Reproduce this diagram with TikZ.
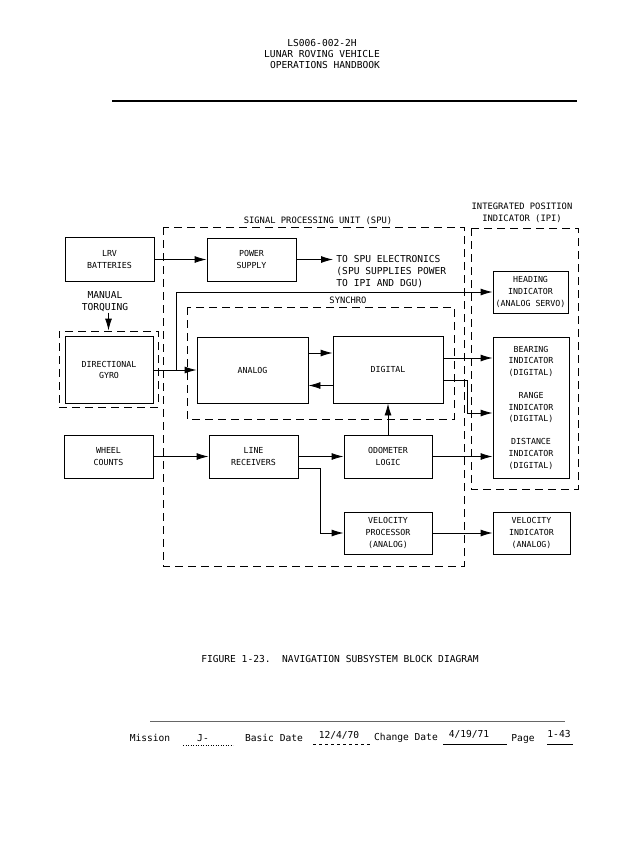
\documentclass[tikz,border=0pt]{standalone}
\usepackage{fontspec}
\setmonofont{DejaVu Sans Mono}
\usetikzlibrary{arrows.meta}

\begin{document}
\begin{tikzpicture}[x=1pt,y=-1pt,>={Latex[length=12pt,width=7pt]},line width=0.9pt,
  blk/.style={draw,rectangle,align=center,inner sep=1pt,
    font=\ttfamily\fontsize{8.3}{11.6}\selectfont},
  dbox/.style={dash pattern=on 8pt off 5pt},
  txt/.style={inner sep=0pt,align=center,font=\ttfamily\fontsize{9.6}{12}\selectfont},
  ltxt/.style={txt,align=left}]
\useasboundingbox (0,0) rectangle (640,843);
% header
\node[txt] (h1) at (322,43) {LS006-002-2H};
\node[txt] (h2) at (322,54) {LUNAR ROVING VEHICLE};
\node[txt] (h3) at (325,65) {OPERATIONS HANDBOOK};
\draw[line width=1.4pt] (112,101) -- (577,101);
%
\draw[dbox] (163,227) rectangle (464,566);
\node[txt,font=\ttfamily\fontsize{8.8}{11}\selectfont] (spul) at (318,221) {SIGNAL PROCESSING UNIT (SPU)};
\draw[dbox] (471,228) rectangle (578,489);
\node[txt,font=\ttfamily\fontsize{8.8}{11.6}\selectfont] (ipil) at (522,213) {INTEGRATED POSITION\\INDICATOR (IPI)};
\draw[dbox] (187,307) rectangle (454,419);
\node[txt,font=\ttfamily\fontsize{8.8}{11}\selectfont] (syn) at (348,300) {SYNCHRO};
%
\node[blk,minimum width=89pt,minimum height=44pt] (bat) at (109.5,259.5) {LRV\\BATTERIES};
\node[blk,minimum width=89pt,minimum height=43pt] (psu) at (251.5,259.5) {POWER\\SUPPLY};
\node[ltxt,anchor=west] (tospu) at (336,272) {TO SPU ELECTRONICS\\(SPU SUPPLIES POWER\\TO IPI AND DGU)};
\node[txt] (torq) at (105,302) {MANUAL\\TORQUING};
\node[draw,dbox,minimum width=99pt,minimum height=76pt,inner sep=0pt] (gyroo) at (108.5,369) {};
\node[blk,minimum width=88pt,minimum height=67pt] (gyro) at (109,370) {DIRECTIONAL\\GYRO};
\node[blk,minimum width=111pt,minimum height=66pt] (ana) at (252.5,370) {ANALOG};
\node[blk,minimum width=110pt,minimum height=67pt] (dig) at (388,369.5) {DIGITAL};
\node[blk,minimum width=75pt,minimum height=42pt] (hdg) at (530.5,292) {HEADING\\INDICATOR\\(ANALOG SERVO)};
\node[blk,minimum width=76pt,minimum height=141pt] (bid) at (531,407.5)
  {BEARING\\INDICATOR\\(DIGITAL)\\[11.6pt]RANGE\\INDICATOR\\(DIGITAL)\\[11.6pt]DISTANCE\\INDICATOR\\(DIGITAL)};
\node[blk,minimum width=89pt,minimum height=43pt] (whl) at (108.5,456.5) {WHEEL\\COUNTS};
\node[blk,minimum width=89pt,minimum height=43pt] (lrx) at (253.5,456.5) {LINE\\RECEIVERS};
\node[blk,minimum width=88pt,minimum height=43pt] (odo) at (388,456.5) {ODOMETER\\LOGIC};
\node[blk,minimum width=88pt,minimum height=42pt] (vpr) at (388,533) {VELOCITY\\PROCESSOR\\(ANALOG)};
\node[blk,minimum width=77pt,minimum height=42pt] (vin) at (531.5,533) {VELOCITY\\INDICATOR\\(ANALOG)};
% connectors
\coordinate (br) at (176,370);
\coordinate (ad) at ([yshift=17pt]ana.east);
\coordinate (da) at ([yshift=-16pt]dig.west);
\coordinate (db) at ([yshift=11.5pt]dig.east);
\coordinate (dr) at ([yshift=-10.5pt]dig.east);
\coordinate (rk) at (467,380);
\coordinate (rv) at ([yshift=-11.5pt]lrx.east);
\coordinate (vk) at (320,468);
\draw[->] (bat.east) -- (psu.west);
\draw[->] (psu.east) -- ([xshift=-3pt]psu.east -| tospu.west);
\draw[->] (gyroo.north |- torq.south) -- (gyroo.north);
\draw[->] (gyro.east) -- (ana.west);
\draw[->] (br) |- (hdg.west);
\draw[->] (ad) -- (ad -| dig.west);
\draw[->] (da) -- (da -| ana.east);
\draw[->] (db) -- (db -| bid.west);
\draw[->] (dr) -- (rk) |- ([yshift=-5.5pt]bid.west);
\draw[->] (whl.east) -- (lrx.west);
\draw[->] (lrx.east) -- (odo.west);
\draw[->] (odo.north) -- (dig.south);
\draw[->] (odo.east) -- (odo.east -| bid.west);
\draw[->] (rv) -- (vk) |- (vpr.west);
\draw[->] (vpr.east) -- (vin.west);
% caption and footer
\node[txt] (cap) at (340,659) {FIGURE 1-23.\ \ NAVIGATION SUBSYSTEM BLOCK DIAGRAM};
\draw[line width=0.5pt,black!60] (150,721) -- (565,721);
\node[txt] (f1) at (150,738) {Mission};
\node[txt] (f2) at (203,738) {J-};
\node[txt] (f3) at (274,738) {Basic Date};
\node[txt] (f4) at (339,735) {12/4/70};
\node[txt] (f5) at (406,738) {Change Date};
\node[txt] (f6) at (469,734) {4/19/71};
\node[txt] (f7) at (523,739) {Page};
\node[txt] (f8) at (559,734) {1-43};
\draw[line width=0.5pt,dotted] (183,745) -- (233,745);
\draw[line width=0.5pt,dashed] (313,744) -- (370,744);
\draw[line width=0.5pt] (443,744) -- (507,744);
\draw[line width=0.5pt] (547,744) -- (573,744);
\end{tikzpicture}
\end{document}
